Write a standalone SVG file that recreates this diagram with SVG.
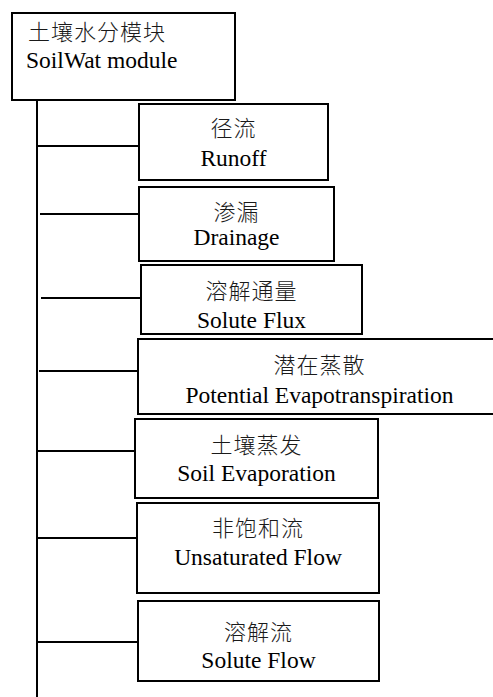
<svg xmlns="http://www.w3.org/2000/svg" width="493" height="697" viewBox="0 0 493 697">
  <style>
    .box { fill: #ffffff; stroke: #000000; stroke-width: 2; }
    .link { fill: none; stroke: #000000; stroke-width: 2; }
    .zh { font-family: "Liberation Serif", "Noto Sans CJK SC", serif; font-size: 22px; font-weight: 300; fill: #1a1a1a; letter-spacing: 1px; }
    .en { font-family: "Liberation Serif", "Times New Roman", serif; font-size: 23.5px; fill: #000000; }
    .mid { text-anchor: middle; }
  </style>
  <rect width="493" height="697" fill="#ffffff"/>

  <!-- trunk and branches -->
  <g id="connectors">
    <line class="link" x1="37" y1="100" x2="37" y2="697"/>
    <line class="link" x1="37" y1="146" x2="139" y2="146"/>
    <line class="link" x1="40" y1="214" x2="139" y2="214"/>
    <line class="link" x1="41" y1="298" x2="141" y2="298"/>
    <line class="link" x1="39" y1="371" x2="138" y2="371"/>
    <line class="link" x1="38" y1="451" x2="135" y2="451"/>
    <line class="link" x1="37" y1="538" x2="137" y2="538"/>
    <line class="link" x1="37" y1="642" x2="138" y2="642"/>
  </g>

  <!-- root module -->
  <g id="soilwat">
    <rect class="box" x="12" y="13" width="223" height="87"/>
    <text class="zh" x="28" y="40">土壤水分模块</text>
    <text class="en" x="26" y="68">SoilWat module</text>
  </g>

  <g id="runoff">
    <rect class="box" x="139" y="104" width="189" height="76"/>
    <text class="zh mid" x="233.5" y="136">径流</text>
    <text class="en mid" x="233.5" y="166">Runoff</text>
  </g>

  <g id="drainage">
    <rect class="box" x="139" y="187" width="195" height="74"/>
    <text class="zh mid" x="236.5" y="220">渗漏</text>
    <text class="en mid" x="236.5" y="245">Drainage</text>
  </g>

  <g id="solute-flux">
    <rect class="box" x="141" y="265" width="221" height="69"/>
    <text class="zh mid" x="251.5" y="299">溶解通量</text>
    <text class="en mid" x="251.5" y="328">Solute Flux</text>
  </g>

  <!-- this box runs past the right edge of the sheet -->
  <g id="potential-et">
    <rect class="box" x="138" y="339" width="370" height="75"/>
    <text class="zh mid" x="319.5" y="373">潜在蒸散</text>
    <text class="en mid" x="319.5" y="403">Potential Evapotranspiration</text>
  </g>

  <g id="soil-evaporation">
    <rect class="box" x="135" y="419" width="243" height="79"/>
    <text class="zh mid" x="256.5" y="453">土壤蒸发</text>
    <text class="en mid" x="256.5" y="481">Soil Evaporation</text>
  </g>

  <g id="unsaturated-flow">
    <rect class="box" x="137" y="503" width="242" height="90"/>
    <text class="zh mid" x="258" y="536">非饱和流</text>
    <text class="en mid" x="258" y="565">Unsaturated Flow</text>
  </g>

  <g id="solute-flow">
    <rect class="box" x="138" y="601" width="241" height="80"/>
    <text class="zh mid" x="258.5" y="640">溶解流</text>
    <text class="en mid" x="258.5" y="668">Solute Flow</text>
  </g>
</svg>
